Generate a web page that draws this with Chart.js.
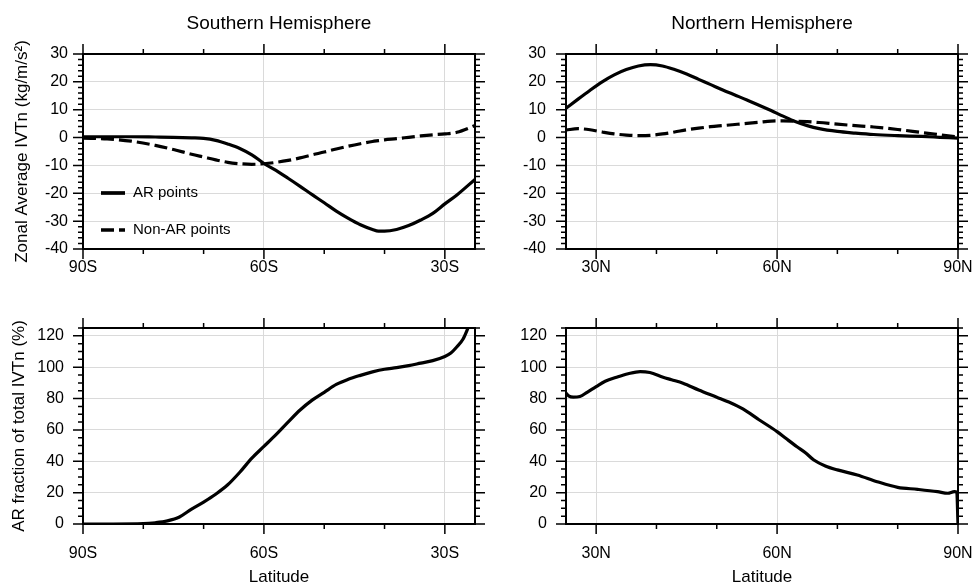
<!DOCTYPE html>
<html>
<head>
<meta charset="utf-8">
<title>Zonal average IVTn</title>
<script src="https://cdn.jsdelivr.net/npm/chart.js@4.4.1/dist/chart.umd.min.js"></script>
<style>
    html, body { margin: 0; padding: 0; background: #fff; }
    #wrap { position: relative; width: 972px; height: 583px; }
    #wrap canvas { position: absolute; left: 0; top: 0; }
</style>
</head>
<body>
<div id="wrap">
    <canvas id="sh_ivt" width="972" height="583"></canvas>
    <canvas id="nh_ivt" width="972" height="583"></canvas>
    <canvas id="sh_frac" width="972" height="583"></canvas>
    <canvas id="nh_frac" width="972" height="583"></canvas>
</div>
<script>
// tick labels
const shLatTicks = [-90, -60, -30];
const nhLatTicks = [30, 60, 90];
const ivtTicks = [-40, -30, -20, -10, 0, 10, 20, 30];
const fracTicks = [0, 20, 40, 60, 80, 100, 120];

// Southern Hemisphere zonal average IVTn
const shLat = [-90, -86, -82, -78, -75, -72, -70, -68, -66, -64, -62, -60, -58, -56, -54, -52, -50, -48, -46, -44, -42, -41, -40, -38, -36, -34, -32, -30, -28, -25];
const shAR = [0.3, 0.3, 0.3, 0.2, 0.1, -0.1, -0.3, -1.0, -2.3, -3.9, -6.2, -9.3, -11.8, -14.6, -17.5, -20.5, -23.4, -26.4, -29.0, -31.3, -33.0, -33.6, -33.6, -33.0, -31.6, -29.6, -27.2, -23.8, -20.6, -15.0];
const shNonAR = [-0.2, -0.5, -1.3, -2.8, -4.3, -6.0, -7.0, -8.0, -8.9, -9.4, -9.6, -9.4, -8.9, -8.2, -7.3, -6.2, -5.2, -4.1, -3.1, -2.2, -1.4, -1.1, -0.8, -0.4, 0.1, 0.6, 1.0, 1.3, 1.9, 4.3];

// Northern Hemisphere zonal average IVTn
const nhLat = [25, 27, 29, 31, 33, 35, 37, 39, 41, 43, 45, 47, 49, 51, 53, 55, 57, 59, 61, 63, 65, 67, 70, 73, 76, 80, 84, 87, 90];
const nhAR = [10.5, 13.8, 17.0, 20.0, 22.5, 24.4, 25.7, 26.2, 25.7, 24.4, 22.8, 20.9, 19.0, 17.1, 15.3, 13.5, 11.6, 9.7, 7.7, 5.8, 4.3, 3.2, 2.2, 1.6, 1.1, 0.7, 0.4, 0.1, -0.2];
const nhNonAR = [2.7, 3.2, 2.8, 2.0, 1.3, 0.9, 0.7, 0.8, 1.3, 2.0, 2.8, 3.4, 3.9, 4.3, 4.7, 5.1, 5.5, 5.9, 6.0, 5.9, 5.7, 5.4, 4.8, 4.3, 3.8, 2.9, 1.8, 1.0, 0.2];

// AR fraction of total IVTn (%)
const shFracLat = [-90, -85, -80, -78, -76, -74, -72, -70, -68, -66, -64, -62, -60, -58, -56, -54, -52, -50, -48, -46, -44, -42, -40, -38, -36, -34, -32, -30, -29, -28, -27, -26, -25.5];
const shFrac = [0, 0, 0.2, 0.8, 2.0, 4.5, 9.5, 14.0, 19.0, 25.0, 33.0, 42.0, 49.5, 57.0, 65.0, 72.7, 79.0, 84.0, 89.0, 92.3, 94.8, 97.0, 98.7, 99.7, 101.0, 102.6, 104.2, 106.8, 109.0, 113.0, 117.8, 126.5, 131.0];
const nhFracLat = [25, 25.5, 26.2, 27.3, 28.5, 30, 31.5, 33.4, 35.3, 37.3, 38.9, 41.1, 42.5, 44.4, 47, 50, 52, 54.4, 57, 60, 61.5, 63.3, 64.7, 66.1, 68, 70, 73.3, 76.6, 80, 83.3, 86.6, 88.3, 89.4, 89.8, 90];
const nhFrac = [83.5, 81.5, 80.9, 81.3, 84.0, 87.6, 91.0, 93.6, 95.8, 97.2, 96.6, 93.6, 92.0, 89.8, 85.5, 80.9, 77.8, 73.2, 66.5, 58.9, 54.5, 49.3, 45.5, 40.8, 37.0, 34.5, 31.3, 27.0, 23.4, 22.1, 20.6, 19.6, 20.6, 20.3, 0];

Chart.defaults.font.family = "'Liberation Sans', Arial, sans-serif";
Chart.defaults.color = '#000';

const GRID = '#dadada';

// frame, tick marks, panel title and in-plot legend
const panelDecor = {
    id: 'panelDecor',
    afterDraw(chart, args, o) {
        const { ctx, chartArea: a, scales: { x, y } } = chart;
        ctx.save();
        ctx.strokeStyle = '#000';
        ctx.lineWidth = 1.5;
        ctx.beginPath();
        for (let v = Math.ceil(x.min / 10) * 10; v <= x.max; v += 10) {
            let px = x.getPixelForValue(v);
            let len = v % 30 === 0 ? 10 : 5;
            ctx.moveTo(px, a.bottom);
            ctx.lineTo(px, a.bottom + len);
            ctx.moveTo(px, a.top);
            ctx.lineTo(px, a.top - len);
        }
        for (let v = y.min; v <= y.max; v += o.yMinor) {
            let py = y.getPixelForValue(v);
            let len = v % o.yMajor === 0 ? 10 : 5;
            ctx.moveTo(a.left, py);
            ctx.lineTo(a.left - len, py);
            ctx.moveTo(a.right, py);
            ctx.lineTo(a.right + len, py);
        }
        ctx.stroke();
        ctx.lineWidth = 2;
        ctx.strokeRect(a.left, a.top, a.right - a.left, a.bottom - a.top);

        if (o.title) {
            ctx.fillStyle = '#000';
            ctx.font = "19px 'Liberation Sans', Arial, sans-serif";
            ctx.textAlign = 'center';
            ctx.textBaseline = 'alphabetic';
            ctx.fillText(o.title, (a.left + a.right) / 2, 29);
        }

        if (o.legend) {
            ctx.font = "15px 'Liberation Sans', Arial, sans-serif";
            ctx.textAlign = 'left';
            ctx.textBaseline = 'middle';
            chart.data.datasets.forEach((ds, i) => {
                let ly = a.top + o.legendTop + i * o.legendGap;
                let lx = a.left + 18;
                ctx.lineWidth = ds.borderWidth + 0.5;
                ctx.setLineDash(ds.borderDash || []);
                ctx.beginPath();
                ctx.moveTo(lx, ly);
                ctx.lineTo(lx + 24, ly);
                ctx.stroke();
                ctx.setLineDash([]);
                ctx.fillText(ds.label, lx + 32, ly);
            });
        }
        ctx.restore();
    }
};

function toPoints(lat, vals) {
    return lat.map((v, i) => ({ x: v, y: vals[i] }));
}

function lineSet(label, lat, vals, dashed) {
    return {
        label: label,
        data: toPoints(lat, vals),
        borderColor: '#000',
        borderWidth: 3.2,
        borderDash: dashed ? [13, 5] : [],
        pointRadius: 0,
        cubicInterpolationMode: 'monotone',
        fill: false
    };
}

function xScale(min, max, tickVals, hemi, labelPad, height, withTitle) {
    return {
        type: 'linear',
        min: min,
        max: max,
        afterBuildTicks: (s) => { s.ticks = tickVals.map(v => ({ value: v })); },
        afterFit: (s) => { s.height = height; s.paddingLeft = 0; s.paddingRight = 0; },
        ticks: {
            callback: (v) => Math.abs(v) + hemi,
            padding: labelPad,
            maxRotation: 0,
            autoSkip: false,
            font: { size: 16 }
        },
        grid: { color: GRID, drawTicks: false },
        border: { display: false },
        title: {
            display: withTitle,
            text: 'Latitude',
            font: { size: 17, lineHeight: 1 },
            padding: { top: 0, bottom: -3 }
        }
    };
}

function yScale(min, max, tickVals, labelPad, title, titlePad) {
    return {
        min: min,
        max: max,
        afterBuildTicks: (s) => { s.ticks = tickVals.map(v => ({ value: v })); },
        afterFit: (s) => { s.width = 83; s.paddingTop = 0; s.paddingBottom = 0; },
        ticks: { padding: labelPad, font: { size: 16 } },
        grid: { color: GRID, drawTicks: false },
        border: { display: false },
        title: {
            display: !!title,
            text: title || '',
            font: { size: 17, lineHeight: 1 },
            padding: { top: titlePad, bottom: 0 }
        }
    };
}

function makePanel(chartId, datasets, scales, padding, decor) {
    let canvas = document.querySelector(`#${chartId}`);
    return new Chart(canvas, {
        type: 'line',
        data: { datasets: datasets },
        options: {
            responsive: false,
            animation: false,
            events: [],
            layout: { padding: padding },
            scales: scales,
            plugins: {
                legend: { display: false },
                tooltip: { enabled: false },
                panelDecor: decor
            }
        },
        plugins: [panelDecor]
    });
}

makePanel('sh_ivt',
    [lineSet('AR points', shLat, shAR, false), lineSet('Non-AR points', shLat, shNonAR, true)],
    {
        x: xScale(-90, -25, shLatTicks, 'S', 9, 30, false),
        y: yScale(-40, 30, ivtTicks, 15, 'Zonal Average IVTn (kg/m/s\u00b2)', 14)
    },
    { left: 0, right: 497, top: 54, bottom: 304 },
    { yMinor: 2, yMajor: 10, title: 'Southern Hemisphere', legend: true, legendTop: 139, legendGap: 37 });

makePanel('nh_ivt',
    [lineSet('AR points', nhLat, nhAR, false), lineSet('Non-AR points', nhLat, nhNonAR, true)],
    {
        x: xScale(25, 90, nhLatTicks, 'N', 9, 30, false),
        y: yScale(-40, 30, ivtTicks, 20, null, 0)
    },
    { left: 483, right: 14, top: 54, bottom: 304 },
    { yMinor: 2, yMajor: 10, title: 'Northern Hemisphere', legend: false });

makePanel('sh_frac',
    [lineSet('AR fraction', shFracLat, shFrac, false)],
    {
        x: xScale(-90, -25, shLatTicks, 'S', 20, 59, true),
        y: yScale(0, 125, fracTicks, 19, 'AR fraction of total IVTn (%)', 11)
    },
    { left: 0, right: 497, top: 328, bottom: 0 },
    { yMinor: 5, yMajor: 20, legend: false });

makePanel('nh_frac',
    [lineSet('AR fraction', nhFracLat, nhFrac, false)],
    {
        x: xScale(25, 90, nhLatTicks, 'N', 20, 59, true),
        y: yScale(0, 125, fracTicks, 19, null, 0)
    },
    { left: 483, right: 14, top: 328, bottom: 0 },
    { yMinor: 5, yMajor: 20, legend: false });
</script>
</body>
</html>
